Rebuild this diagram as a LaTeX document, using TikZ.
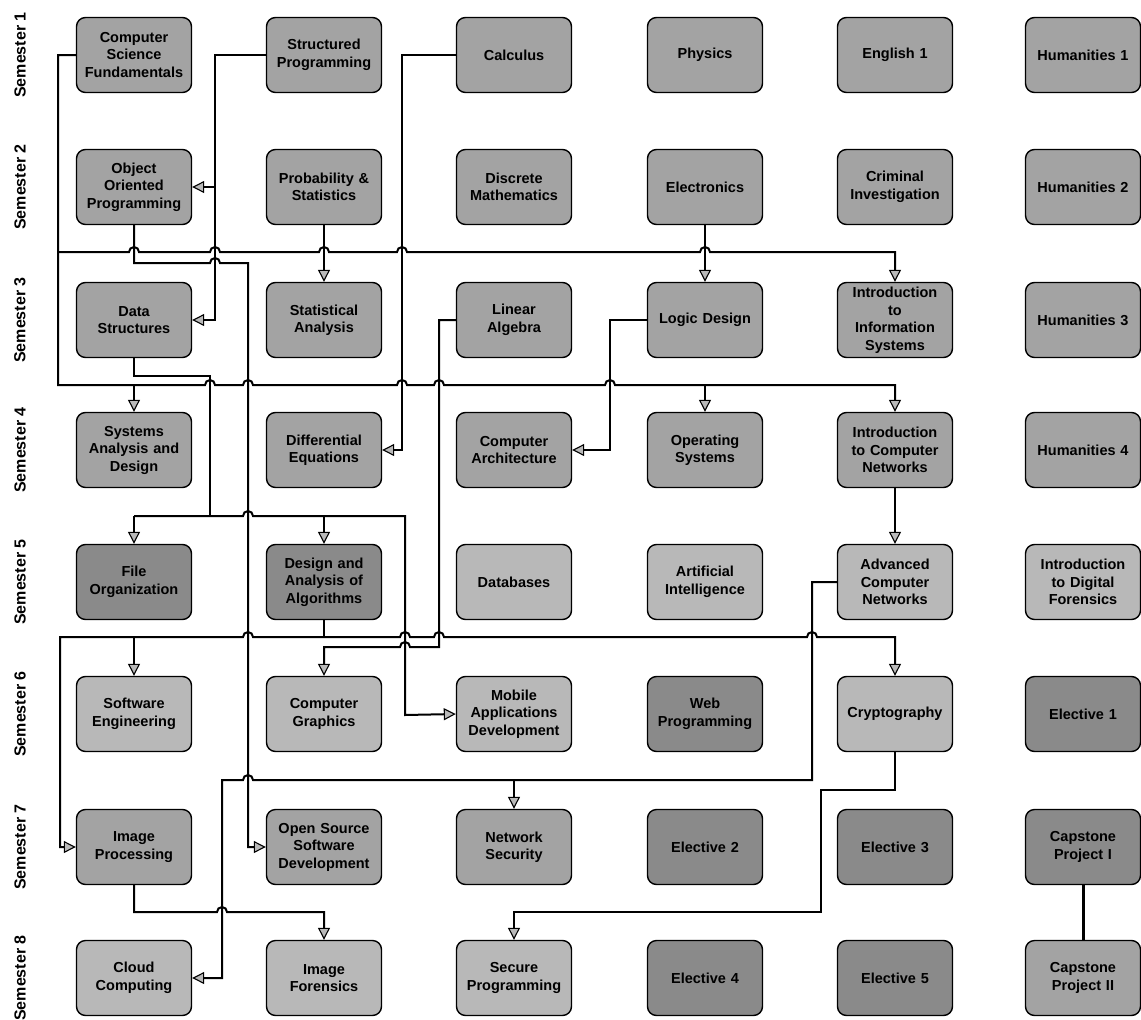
\documentclass[tikz,border=0pt]{standalone}
\usepackage{fontspec}
\setmainfont{Liberation Sans}
\usetikzlibrary{arrows.meta}
\definecolor{midbox}{gray}{0.64}
\definecolor{darkbox}{gray}{0.54}
\definecolor{lightbox}{gray}{0.72}
\tikzset{
  course/.style={draw=black, line width=1.4pt, rounded corners=9pt, fill=midbox,
    minimum width=115pt, minimum height=75pt, text width=112pt, align=center,
    inner sep=1pt, font=\fontsize{14.5}{17.5}\selectfont\bfseries},
  dk/.style={course, fill=darkbox},
  lt/.style={course, fill=lightbox},
  sem/.style={rotate=90, font=\fontsize{16}{18}\selectfont\bfseries},
  link/.style={line width=2pt, draw=black},
  arr/.style={link, -{Triangle[length=12pt,width=12pt,fill=gray!55,line width=1.1pt]}},
  capl/.style={line width=3pt, draw=black}
}
\begin{document}
\begin{tikzpicture}[x=1pt,y=1pt]
\path[use as bounding box] (0,0) rectangle (1141,-1020);
% semester labels
\node[sem] (s1) at (20,-55) {Semester 1};
\node[sem] (s2) at (20,-187) {Semester 2};
\node[sem] (s3) at (20,-320) {Semester 3};
\node[sem] (s4) at (20,-450) {Semester 4};
\node[sem] (s5) at (20,-582) {Semester 5};
\node[sem] (s6) at (20,-714) {Semester 6};
\node[sem] (s7) at (20,-847) {Semester 7};
\node[sem] (s8) at (20,-978) {Semester 8};
% row 1
\node[course] (csf) at (134,-55) {Computer\\Science\\Fundamentals};
\node[course] (sp) at (324,-55) {Structured\\Programming};
\node[course] (calc) at (514,-55) {Calculus};
\node[course] (phys) at (705,-55) {Physics};
\node[course] (eng1) at (895,-55) {English 1};
\node[course] (hum1) at (1083,-55) {Humanities 1};
% row 2
\node[course] (oop) at (134,-187) {Object\\Oriented\\Programming};
\node[course] (ps) at (324,-187) {Probability \&\\Statistics};
\node[course] (dm) at (514,-187) {Discrete\\Mathematics};
\node[course] (elec) at (705,-187) {Electronics};
\node[course] (ci) at (895,-187) {Criminal\\Investigation};
\node[course] (hum2) at (1083,-187) {Humanities 2};
% row 3
\node[course] (ds) at (134,-320) {Data\\Structures};
\node[course] (sa) at (324,-320) {Statistical\\Analysis};
\node[course] (la) at (514,-320) {Linear\\Algebra};
\node[course] (ld) at (705,-320) {Logic Design};
\node[course] (iis) at (895,-320) {Introduction\\to\\Information\\Systems};
\node[course] (hum3) at (1083,-320) {Humanities 3};
% row 4
\node[course] (sad) at (134,-450) {Systems\\Analysis and\\Design};
\node[course] (de) at (324,-450) {Differential\\Equations};
\node[course] (ca) at (514,-450) {Computer\\Architecture};
\node[course] (os) at (705,-450) {Operating\\Systems};
\node[course] (icn) at (895,-450) {Introduction\\to Computer\\Networks};
\node[course] (hum4) at (1083,-450) {Humanities 4};
% row 5
\node[dk] (fo) at (134,-582) {File\\Organization};
\node[dk] (daa) at (324,-582) {Design and\\Analysis of\\Algorithms};
\node[lt] (db) at (514,-582) {Databases};
\node[lt] (ai) at (705,-582) {Artificial\\Intelligence};
\node[lt] (acn) at (895,-582) {Advanced\\Computer\\Networks};
\node[lt] (idf) at (1083,-582) {Introduction\\to Digital\\Forensics};
% row 6
\node[lt] (se) at (134,-714) {Software\\Engineering};
\node[lt] (cg) at (324,-714) {Computer\\Graphics};
\node[lt] (mad) at (514,-714) {Mobile\\Applications\\Development};
\node[dk] (web) at (705,-714) {Web\\Programming};
\node[lt] (cry) at (895,-714) {Cryptography};
\node[dk] (el1) at (1083,-714) {Elective 1};
% row 7
\node[course] (ip) at (134,-847) {Image\\Processing};
\node[course] (ossd) at (324,-847) {Open Source\\Software\\Development};
\node[course] (ns) at (514,-847) {Network\\Security};
\node[dk] (el2) at (705,-847) {Elective 2};
\node[dk] (el3) at (895,-847) {Elective 3};
\node[dk] (cap1) at (1083,-847) {Capstone\\Project I};
% row 8
\node[lt] (cc) at (134,-978) {Cloud\\Computing};
\node[lt] (imf) at (324,-978) {Image\\Forensics};
\node[lt] (secp) at (514,-978) {Secure\\Programming};
\node[dk] (el4) at (705,-978) {Elective 4};
\node[dk] (el5) at (895,-978) {Elective 5};
\node[course] (cap2) at (1083,-978) {Capstone\\Project II};
% junction coordinates
\coordinate (jA) at (58,-252);
\coordinate (jB) at (134,-385);
\coordinate (jC) at (705,-385);
\coordinate (jD) at (215,-187);
\coordinate (jE) at (134,-516);
\coordinate (jF) at (324,-516);
\coordinate (jG) at (324,-637);
\coordinate (jH) at (134,-637);
\coordinate (jI) at (514,-780);
% CSF -> IIS
\draw[arr] (csf.west) -- (58,-55) -- (jA) -- (129,-252) arc[start angle=180,end angle=0,radius=5pt]
  -- (210,-252) arc[start angle=180,end angle=0,radius=5pt]
  -- (319,-252) arc[start angle=180,end angle=0,radius=5pt]
  -- (397,-252) arc[start angle=180,end angle=0,radius=5pt]
  -- (700,-252) arc[start angle=180,end angle=0,radius=5pt]
  -- (895,-252) -- (iis.north);
% CSF -> SAD, OS, ICN
\draw[arr] (jA) -- (58,-385) -- (205,-385) arc[start angle=180,end angle=0,radius=5pt]
  -- (243,-385) arc[start angle=180,end angle=0,radius=5pt]
  -- (397,-385) arc[start angle=180,end angle=0,radius=5pt]
  -- (434,-385) arc[start angle=180,end angle=0,radius=5pt]
  -- (605,-385) arc[start angle=180,end angle=0,radius=5pt]
  -- (895,-385) -- (icn.north);
\draw[arr] (jB) -- (sad.north);
\draw[arr] (jC) -- (os.north);
% SP -> OOP, DS
\draw[arr] (sp.west) -- (215,-55) -- (215,-320) -- (ds.east);
\draw[arr] (jD) -- (oop.east);
% OOP -> OSSD
\draw[arr] (oop.south) -- (134,-263) -- (210,-263) arc[start angle=180,end angle=0,radius=5pt]
  -- (248,-263) -- (248,-847) -- (ossd.west);
% P&S -> SA, Elec -> LD, ICN -> ACN
\draw[arr] (ps.south) -- (sa.north);
\draw[arr] (elec.south) -- (ld.north);
\draw[arr] (icn.south) -- (acn.north);
% Calculus -> DE
\draw[arr] (calc.west) -- (402,-55) -- (402,-450) -- (de.east);
% LA -> CG
\draw[arr] (la.west) -- (439,-320) -- (439,-647) -- (410,-647) arc[start angle=0,end angle=180,radius=5pt]
  -- (324,-647) -- (cg.north);
% LD -> CA
\draw[arr] (ld.west) -- (610,-320) -- (610,-450) -- (ca.east);
% DS -> FO, DAA, MAD
\draw[link] (ds.south) -- (134,-376) -- (210,-376) -- (210,-516);
\draw[arr] (jE) -- (243,-516) arc[start angle=180,end angle=0,radius=5pt]
  -- (405,-516) -- (405,-715) -- (mad.west);
\draw[arr] (jE) -- (fo.north);
\draw[arr] (jF) -- (daa.north);
% DAA -> SE, IP, Crypto
\draw[link] (daa.south) -- (jG);
\draw[arr] (jG) -- (253,-637) arc[start angle=0,end angle=180,radius=5pt]
  -- (60,-637) -- (60,-847) -- (ip.west);
\draw[arr] (jG) -- (400,-637) arc[start angle=180,end angle=0,radius=5pt]
  -- (434,-637) arc[start angle=180,end angle=0,radius=5pt]
  -- (807,-637) arc[start angle=180,end angle=0,radius=5pt]
  -- (895,-637) -- (cry.north);
\draw[arr] (jH) -- (se.north);
% ACN -> NS, CC
\draw[arr] (acn.west) -- (812,-582) -- (812,-780) -- (253,-780) arc[start angle=0,end angle=180,radius=5pt]
  -- (222,-780) -- (222,-978) -- (cc.east);
\draw[arr] (jI) -- (ns.north);
% Crypto -> Secure Programming
\draw[arr] (cry.south) -- (895,-790) -- (821,-790) -- (821,-912) -- (514,-912) -- (secp.north);
% IP -> Image Forensics
\draw[arr] (ip.south) -- (134,-912) -- (217,-912) arc[start angle=180,end angle=0,radius=5pt]
  -- (324,-912) -- (imf.north);
% Capstone
\draw[capl] (cap1.south) -- (cap2.north);
\end{tikzpicture}
\end{document}
